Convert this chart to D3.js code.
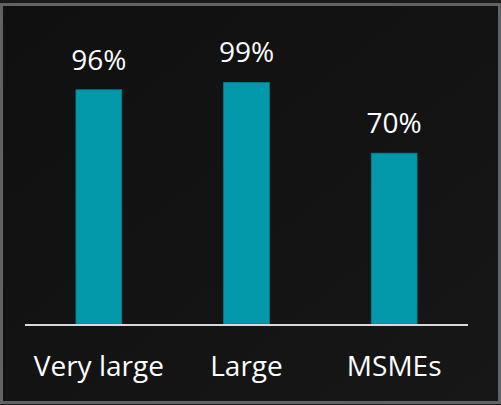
<html lang="en">
<head>
    <meta charset="UTF-8">
    <title>Share by firm size</title>
    <script src="https://cdn.jsdelivr.net/npm/d3@7"></script>
    <style>
        body { margin: 0; background: #1a1a1a; }
        svg { display: block; }
    </style>
</head>
<body>
    <svg id="svg"></svg>
    <script>
        var WIDTH = 501;
        var HEIGHT = 405;
        var BASE_Y = 324;
        var TOP_Y = 80;
        var LEFT = 25;
        var RIGHT = 468;
        var FONT = "'Open Sans', sans-serif";

        var categories = ["Very large", "Large", "MSMEs"];
        var values = [96, 99, 70];

        var svg = d3.select("#svg")
                    .attr("width", WIDTH)
                    .attr("height", HEIGHT);

        // background gradient + frame
        var grad = svg.append("defs")
                      .append("linearGradient")
                      .attr("id", "bg")
                      .attr("x1", "0").attr("y1", "0")
                      .attr("x2", "1").attr("y2", "1");
        grad.append("stop").attr("offset", "0").attr("stop-color", "#101010");
        grad.append("stop").attr("offset", "0.5").attr("stop-color", "#131313");
        grad.append("stop").attr("offset", "1").attr("stop-color", "#171717");

        svg.append("rect")
           .attr("x", 1.5)
           .attr("y", 4.5)
           .attr("width", 498)
           .attr("height", 398)
           .attr("fill", "url(#bg)")
           .attr("stroke", "#606366")
           .attr("stroke-width", 3);

        var xScale = d3.scaleBand()
                       .domain(categories)
                       .range([LEFT, RIGHT])
                       .paddingInner(0.69)
                       .paddingOuter(0.345);

        var yScale = d3.scaleLinear()
                       .domain([0, 100])
                       .range([BASE_Y, TOP_Y]);

        var data = categories.map(function(c, i){
            return {cat: c, value: values[i]};
        });

        // bars
        svg.append("g")
           .selectAll("rect")
           .data(data)
           .enter()
           .append("rect")
           .attr("x", function(d){ return xScale(d.cat); })
           .attr("y", function(d){ return yScale(d.value); })
           .attr("width", xScale.bandwidth())
           .attr("height", function(d){ return BASE_Y - yScale(d.value); })
           .attr("fill", "#0398aa")
           .attr("stroke", "#037f8e")
           .attr("stroke-width", 0.8);

        // value labels
        svg.append("g")
           .selectAll("text")
           .data(data)
           .enter()
           .append("text")
           .attr("x", function(d){ return xScale(d.cat) + xScale.bandwidth()/2; })
           .attr("y", function(d){ return yScale(d.value) - 20; })
           .attr("text-anchor", "middle")
           .attr("fill", "#ffffff")
           .attr("font-family", FONT)
           .attr("font-size", 28)
           .text(function(d){ return d.value + "%"; });

        // axis line and category labels
        var xAxis = d3.axisBottom(xScale).tickSize(0).tickPadding(0);
        var axisG = svg.append("g")
                       .attr("transform", "translate(0," + (BASE_Y + 1) + ")")
                       .call(xAxis);
        axisG.select(".domain")
             .attr("d", "M" + LEFT + ",0H" + RIGHT)
             .attr("stroke", "#d9d9d9")
             .attr("stroke-width", 2);
        axisG.selectAll(".tick text")
             .attr("y", 51)
             .attr("dy", null)
             .attr("fill", "#ffffff")
             .attr("font-family", FONT)
             .attr("font-size", 28);
    </script>
</body>
</html>
